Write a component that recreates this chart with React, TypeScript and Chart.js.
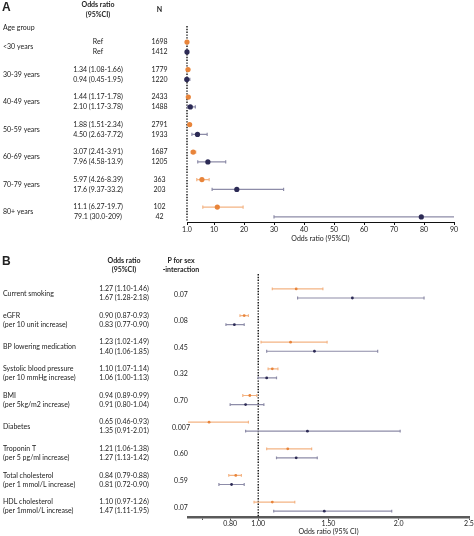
import React, { useEffect, useRef } from 'react';
import { Chart, registerables } from 'chart.js';

Chart.register(...registerables);

// ---------- Panel A data ----------
const ageGroups = ['<30 years', '30-39 years', '40-49 years', '50-59 years', '60-69 years', '70-79 years', '80+ years'];
const ageOrW = [1, 1.34, 1.44, 1.88, 3.07, 5.97, 11.1];
const ageLoW = [1, 1.08, 1.17, 1.51, 2.41, 4.26, 6.27];
const ageHiW = [1, 1.66, 1.78, 2.34, 3.91, 8.39, 19.7];
const ageOrM = [1, 0.94, 2.10, 4.50, 7.96, 17.6, 79.1];
const ageLoM = [1, 0.45, 1.17, 2.63, 4.58, 9.37, 30.0];
const ageHiM = [1, 1.95, 3.78, 7.72, 13.9, 33.2, 209];
const ageTextW = ['Ref', '1.34 (1.08-1.66)', '1.44 (1.17-1.78)', '1.88 (1.51-2.34)', '3.07 (2.41-3.91)', '5.97 (4.26-8.39)', '11.1 (6.27-19.7)'];
const ageTextM = ['Ref', '0.94 (0.45-1.95)', '2.10 (1.17-3.78)', '4.50 (2.63-7.72)', '7.96 (4.58-13.9)', '17.6 (9.37-33.2)', '79.1 (30.0-209)'];
const ageNW = ['1698', '1779', '2433', '2791', '1687', '363', '102'];
const ageNM = ['1412', '1220', '1488', '1933', '1205', '203', '42'];
const ageTicks = [1, 10, 20, 30, 40, 50, 60, 70, 80, 90];
const ageTickLabels = ['1.0', '10', '20', '30', '40', '50', '60', '70', '80', '90'];

// ---------- Panel B data ----------
const riskLabel1 = ['Current smoking', 'eGFR', 'BP lowering medication', 'Systolic blood pressure', 'BMI', 'Diabetes', 'Troponin T', 'Total cholesterol', 'HDL cholesterol'];
const riskLabel2 = ['', '(per 10 unit increase)', '', '(per 10 mmHg increase)', '(per 5kg/m2 increase)', '', '(per 5 pg/ml increase)', '(per 1 mmol/L increase)', '(per 1mmol/L increase)'];
const riskOrW = [1.27, 0.90, 1.23, 1.10, 0.94, 0.65, 1.21, 0.84, 1.10];
const riskLoW = [1.10, 0.87, 1.02, 1.07, 0.89, 0.46, 1.06, 0.79, 0.97];
const riskHiW = [1.46, 0.93, 1.49, 1.14, 0.99, 0.93, 1.38, 0.88, 1.26];
const riskOrM = [1.67, 0.83, 1.40, 1.06, 0.91, 1.35, 1.27, 0.81, 1.47];
const riskLoM = [1.28, 0.77, 1.06, 1.00, 0.80, 0.91, 1.13, 0.72, 1.11];
const riskHiM = [2.18, 0.90, 1.85, 1.13, 1.04, 2.01, 1.42, 0.90, 1.95];
const riskTextW = ['1.27 (1.10-1.46)', '0.90 (0.87-0.93)', '1.23 (1.02-1.49)', '1.10 (1.07-1.14)', '0.94 (0.89-0.99)', '0.65 (0.46-0.93)', '1.21 (1.06-1.38)', '0.84 (0.79-0.88)', '1.10 (0.97-1.26)'];
const riskTextM = ['1.67 (1.28-2.18)', '0.83 (0.77-0.90)', '1.40 (1.06-1.85)', '1.06 (1.00-1.13)', '0.91 (0.80-1.04)', '1.35 (0.91-2.01)', '1.27 (1.13-1.42)', '0.81 (0.72-0.90)', '1.47 (1.11-1.95)'];
const riskP = ['0.07', '0.08', '0.45', '0.32', '0.70', '0.007', '0.60', '0.59', '0.07'];
const riskTicks = [0.6, 0.8, 1.0, 1.5, 2.0, 2.5];
const riskTickLabels = ['', '0.80', '1.00', '1.50', '2.0', '2.5'];

// ---------- style ----------
const FONT = 'Lato, "Open Sans", sans-serif';
const TEXT = '#222222';
const ORANGE = '#E8843A';
const ORANGE_BAR = '#F4B484';
const NAVY = '#2C2A55';
const NAVY_BAR = '#8D8CA8';

function forestPlugin(cfg: { capHalf: number; lw: number; clipLeft: number }) {
  return {
    id: 'forest',
    beforeDatasetsDraw(chart: any) {
      const { ctx, chartArea, scales } = chart;
      const x = scales.x;
      const y = scales.y;
      ctx.save();
      // reference line at OR = 1
      const x1 = x.getPixelForValue(1);
      ctx.strokeStyle = '#111';
      ctx.lineWidth = 1.4;
      ctx.setLineDash([1.4, 1.4]);
      ctx.beginPath();
      ctx.moveTo(x1, chartArea.top);
      ctx.lineTo(x1, chartArea.bottom);
      ctx.stroke();
      ctx.setLineDash([]);
      // error bars
      ctx.beginPath();
      ctx.rect(chartArea.left - cfg.clipLeft, chartArea.top - 5, chartArea.width + cfg.clipLeft, chartArea.height + 5);
      ctx.clip();
      chart.data.datasets.forEach((ds: any) => {
        ctx.strokeStyle = ds.barColor;
        ctx.lineWidth = cfg.lw;
        ds.data.forEach((p: any) => {
          const py = y.getPixelForValue(p.y);
          const a = x.getPixelForValue(p.lo);
          const b = x.getPixelForValue(p.hi);
          ctx.beginPath();
          ctx.moveTo(a, py);
          ctx.lineTo(b, py);
          ctx.moveTo(a, py - cfg.capHalf);
          ctx.lineTo(a, py + cfg.capHalf);
          ctx.moveTo(b, py - cfg.capHalf);
          ctx.lineTo(b, py + cfg.capHalf);
          ctx.stroke();
        });
      });
      ctx.restore();
    },
  };
}

function textA() {
  return {
    id: 'textA',
    afterDraw(chart: any) {
      const { ctx } = chart;
      const y = chart.scales.y;
      ctx.save();
      ctx.fillStyle = TEXT;
      ctx.textBaseline = 'middle';
      ctx.font = `bold 12px "Liberation Sans", Arial, sans-serif`;
      ctx.textAlign = 'left';
      ctx.fillText('A', 2, 8);
      ctx.font = `bold 7px ${FONT}`;
      ctx.textAlign = 'center';
      ctx.fillText('Odds ratio', 98, 4.5);
      ctx.fillText('(95%CI)', 98, 15);
      ctx.fillText('N', 159.5, 9.5);
      ctx.font = `7px ${FONT}`;
      ctx.textAlign = 'left';
      ctx.fillText('Age group', 3, y.getPixelForValue(-0.69));
      ageGroups.forEach((g, i) => {
        ctx.textAlign = 'left';
        ctx.fillText(g, 3, y.getPixelForValue(i));
        ctx.textAlign = 'center';
        ctx.fillText(ageTextW[i], 98, y.getPixelForValue(i - 0.18));
        ctx.fillText(ageTextM[i], 98, y.getPixelForValue(i + 0.18));
        ctx.fillText(ageNW[i], 159.5, y.getPixelForValue(i - 0.18));
        ctx.fillText(ageNM[i], 159.5, y.getPixelForValue(i + 0.18));
      });
      ctx.restore();
    },
  };
}

function textB() {
  return {
    id: 'textB',
    afterDraw(chart: any) {
      const { ctx } = chart;
      const y = chart.scales.y;
      ctx.save();
      ctx.fillStyle = TEXT;
      ctx.textBaseline = 'middle';
      ctx.font = `bold 12px "Liberation Sans", Arial, sans-serif`;
      ctx.textAlign = 'left';
      ctx.fillText('B', 2, 17);
      ctx.font = `bold 7px ${FONT}`;
      ctx.textAlign = 'center';
      ctx.fillText('Odds ratio', 124, 16);
      ctx.fillText('(95%CI)', 124, 25);
      ctx.fillText('P for sex', 181, 16);
      ctx.fillText('-interaction', 181, 25);
      ctx.font = `7px ${FONT}`;
      riskLabel1.forEach((l, i) => {
        ctx.textAlign = 'left';
        if (riskLabel2[i]) {
          ctx.fillText(l, 3, y.getPixelForValue(i - 0.17));
          ctx.fillText(riskLabel2[i], 3, y.getPixelForValue(i + 0.17));
        } else {
          ctx.fillText(l, 3, y.getPixelForValue(i));
        }
        ctx.textAlign = 'center';
        ctx.fillText(riskTextW[i], 124, y.getPixelForValue(i - 0.17));
        ctx.fillText(riskTextM[i], 124, y.getPixelForValue(i + 0.17));
        ctx.fillText(riskP[i], 181, y.getPixelForValue(i + 0.03));
      });
      ctx.restore();
    },
  };
}

function makeData(or: number[], lo: number[], hi: number[], off: number) {
  return or.map((v, i) => ({ x: v, y: i + off, lo: lo[i], hi: hi[i] }));
}

export default function App() {
  const refA = useRef<HTMLCanvasElement>(null);
  const refB = useRef<HTMLCanvasElement>(null);

  useEffect(() => {
    document.body.style.margin = '0';
    const chartA = new Chart(refA.current as HTMLCanvasElement, {
      type: 'scatter',
      data: {
        datasets: [
          { data: makeData(ageOrW, ageLoW, ageHiW, -0.18), backgroundColor: ORANGE, borderColor: ORANGE, pointRadius: 2.6, pointBorderWidth: 0, clip: false, barColor: ORANGE_BAR } as any,
          { data: makeData(ageOrM, ageLoM, ageHiM, 0.18), backgroundColor: NAVY, borderColor: NAVY, pointRadius: 2.6, pointBorderWidth: 0, clip: false, barColor: NAVY_BAR } as any,
        ],
      },
      options: {
        animation: false,
        responsive: false,
        devicePixelRatio: 1,
        events: [],
        layout: { padding: { left: 187, right: 20, top: 26, bottom: 0 } },
        plugins: { legend: { display: false }, tooltip: { enabled: false } },
        scales: {
          y: { type: 'linear', reverse: true, min: -0.764, max: 6.364, display: false },
          x: {
            type: 'linear',
            min: 1,
            max: 90,
            afterBuildTicks: (s: any) => { s.ticks = ageTicks.map((v) => ({ value: v })); },
            afterFit: (s: any) => { s.height = 23; },
            grid: { drawOnChartArea: false, drawTicks: true, tickLength: 3, color: '#111', lineWidth: 1 },
            border: { display: true, color: '#111', width: 1 },
            ticks: {
              autoSkip: false,
              maxRotation: 0,
              padding: 1,
              color: TEXT,
              font: { family: FONT, size: 7 },
              callback: (_v: any, i: number) => ageTickLabels[i],
            },
            title: { display: true, text: 'Odds ratio (95%CI)', color: TEXT, font: { family: FONT, size: 7 }, padding: { top: 0, bottom: 2 } },
          },
        },
      },
      plugins: [forestPlugin({ capHalf: 1.6, lw: 1.2, clipLeft: 3 }), textA()],
    } as any);

    const chartB = new Chart(refB.current as HTMLCanvasElement, {
      type: 'scatter',
      data: {
        datasets: [
          { data: makeData(riskOrW, riskLoW, riskHiW, -0.17), backgroundColor: ORANGE, borderColor: ORANGE, pointRadius: 1.4, pointBorderWidth: 0, clip: false, barColor: ORANGE_BAR } as any,
          { data: makeData(riskOrM, riskLoM, riskHiM, 0.17), backgroundColor: NAVY, borderColor: NAVY, pointRadius: 1.4, pointBorderWidth: 0, clip: false, barColor: NAVY_BAR } as any,
        ],
      },
      options: {
        animation: false,
        responsive: false,
        devicePixelRatio: 1,
        events: [],
        layout: { padding: { left: 188, right: 5, top: 29, bottom: 0 } },
        plugins: { legend: { display: false }, tooltip: { enabled: false } },
        scales: {
          y: { type: 'linear', reverse: true, min: -0.73, max: 8.39, display: false },
          x: {
            type: 'linear',
            min: 0.5,
            max: 2.5,
            afterBuildTicks: (s: any) => { s.ticks = riskTicks.map((v) => ({ value: v })); },
            afterFit: (s: any) => { s.height = 19; },
            grid: { drawOnChartArea: false, drawTicks: true, tickLength: 3, color: '#555', lineWidth: 1 },
            border: { display: true, color: '#5a5a5a', width: 2.5 },
            ticks: {
              autoSkip: false,
              maxRotation: 0,
              padding: 0,
              color: TEXT,
              font: { family: FONT, size: 7 },
              callback: (_v: any, i: number) => riskTickLabels[i],
            },
            title: { display: true, text: 'Odds ratio (95% CI)', color: TEXT, font: { family: FONT, size: 7 }, padding: { top: 0, bottom: 0 } },
          },
        },
      },
      plugins: [forestPlugin({ capHalf: 1.4, lw: 1.2, clipLeft: 0 }), textB()],
    } as any);

    return () => {
      chartA.destroy();
      chartB.destroy();
    };
  }, []);

  return (
    <div style={{ width: 474, height: 536, background: '#fff' }}>
      <canvas ref={refA} width={474} height={245} style={{ display: 'block', width: 474, height: 245 }} />
      <canvas ref={refB} width={474} height={291} style={{ display: 'block', width: 474, height: 291 }} />
    </div>
  );
}
